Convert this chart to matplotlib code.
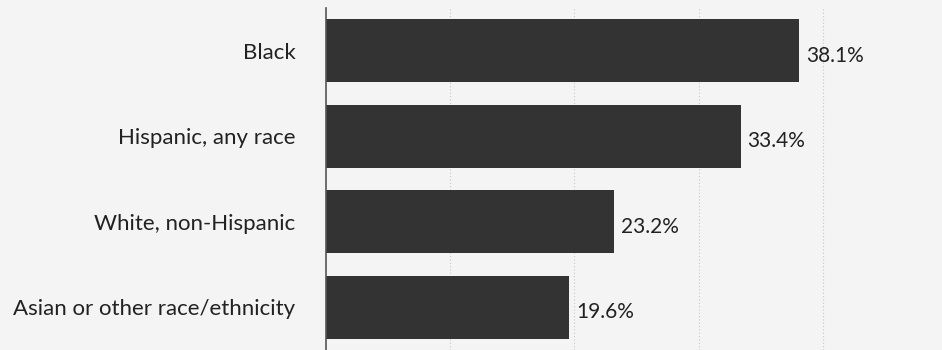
import matplotlib.pyplot as plt

categories = ["Black", "Hispanic, any race", "White, non-Hispanic", "Asian or other race/ethnicity"]
values = [38.1, 33.4, 23.2, 19.6]

plt.rcParams['font.family'] = ['Lato', 'DejaVu Sans']

fig = plt.figure(figsize=(9.42, 3.5), dpi=100)
fig.patch.set_facecolor('#f4f4f4')
ax = fig.add_axes([0.346, 0.0, 0.654, 0.977])
ax.set_facecolor('#f4f4f4')

ypos = list(range(len(categories)))
ax.barh(ypos, values, height=0.74, color='#333333', zorder=2)
for y, v in zip(ypos, values):
    ax.text(v + 0.55, y + 0.06, f"{v}%", va='center', ha='left', fontsize=15, color='#222222')

ax.set_xlim(0, 49.6)
ax.set_ylim(3.5, -0.5)
ax.set_yticks(ypos)
ax.set_yticklabels(categories, fontsize=16, color='#222222')
ax.tick_params(axis='y', length=0, pad=22)
ax.set_xticks([10, 20, 30, 40])
ax.tick_params(axis='x', length=0, labelbottom=False)
ax.grid(axis='x', color='#c8c8c8', linestyle=(0, (1, 2)), linewidth=0.8, zorder=1)
for s in ['top', 'right', 'bottom']:
    ax.spines[s].set_visible(False)
ax.spines['left'].set_color('#555555')
ax.spines['left'].set_linewidth(1.2)

fig.savefig('out.png', dpi=100, facecolor=fig.get_facecolor())
